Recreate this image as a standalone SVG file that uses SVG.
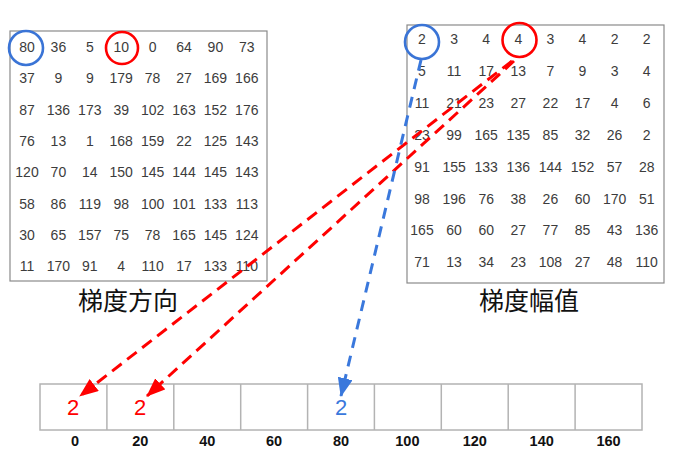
<svg xmlns="http://www.w3.org/2000/svg" width="678" height="454" viewBox="0 0 678 454">
<style>
.box{fill:#fff;stroke:#8a8a8a;stroke-width:1.2}
.num{font-family:"Liberation Sans",Arial,sans-serif;font-size:14px;fill:#3c3c3c;text-anchor:middle}
.lab{font-family:"Noto Sans CJK SC","Noto Sans",sans-serif;font-size:25px;fill:#111;text-anchor:middle}
.cell{fill:#fff;stroke:#b3b3b3;stroke-width:1.5}
.bin{font-family:"Liberation Sans",Arial,sans-serif;font-size:14.5px;font-weight:bold;fill:#111;text-anchor:middle}
.val{font-family:"Liberation Sans",Arial,sans-serif;font-size:22px;text-anchor:middle}
.cb{fill:none;stroke:#3a74d6;stroke-width:2.6}
.cr{fill:none;stroke:#f00;stroke-width:2.6}
.dr{fill:none;stroke:#f00;stroke-width:3;stroke-dasharray:12 7}
.db{fill:none;stroke:#3a78dc;stroke-width:3;stroke-dasharray:11 8}
</style>
<defs>
<marker id="ar" markerUnits="userSpaceOnUse" markerWidth="19" markerHeight="15" refX="18" refY="7.5" orient="auto"><path d="M0,0 L19,7.5 L0,15 z" fill="#f00"/></marker>
<marker id="ab" markerUnits="userSpaceOnUse" markerWidth="19" markerHeight="15" refX="18" refY="7.5" orient="auto"><path d="M0,0 L19,7.5 L0,15 z" fill="#3a78dc"/></marker>
</defs>
<g id="direction-grid">
<rect class="box" x="10" y="31" width="257" height="250"/>
<g class="num">
<text x="27" y="52">80</text><text x="58.4" y="52">36</text><text x="89.8" y="52">5</text><text x="121.2" y="52">10</text><text x="152.6" y="52">0</text><text x="184" y="52">64</text><text x="215.4" y="52">90</text><text x="246.8" y="52">73</text>
<text x="27" y="83.3">37</text><text x="58.4" y="83.3">9</text><text x="89.8" y="83.3">9</text><text x="121.2" y="83.3">179</text><text x="152.6" y="83.3">78</text><text x="184" y="83.3">27</text><text x="215.4" y="83.3">169</text><text x="246.8" y="83.3">166</text>
<text x="27" y="114.6">87</text><text x="58.4" y="114.6">136</text><text x="89.8" y="114.6">173</text><text x="121.2" y="114.6">39</text><text x="152.6" y="114.6">102</text><text x="184" y="114.6">163</text><text x="215.4" y="114.6">152</text><text x="246.8" y="114.6">176</text>
<text x="27" y="145.9">76</text><text x="58.4" y="145.9">13</text><text x="89.8" y="145.9">1</text><text x="121.2" y="145.9">168</text><text x="152.6" y="145.9">159</text><text x="184" y="145.9">22</text><text x="215.4" y="145.9">125</text><text x="246.8" y="145.9">143</text>
<text x="27" y="177.2">120</text><text x="58.4" y="177.2">70</text><text x="89.8" y="177.2">14</text><text x="121.2" y="177.2">150</text><text x="152.6" y="177.2">145</text><text x="184" y="177.2">144</text><text x="215.4" y="177.2">145</text><text x="246.8" y="177.2">143</text>
<text x="27" y="208.5">58</text><text x="58.4" y="208.5">86</text><text x="89.8" y="208.5">119</text><text x="121.2" y="208.5">98</text><text x="152.6" y="208.5">100</text><text x="184" y="208.5">101</text><text x="215.4" y="208.5">133</text><text x="246.8" y="208.5">113</text>
<text x="27" y="239.8">30</text><text x="58.4" y="239.8">65</text><text x="89.8" y="239.8">157</text><text x="121.2" y="239.8">75</text><text x="152.6" y="239.8">78</text><text x="184" y="239.8">165</text><text x="215.4" y="239.8">145</text><text x="246.8" y="239.8">124</text>
<text x="27" y="271.1">11</text><text x="58.4" y="271.1">170</text><text x="89.8" y="271.1">91</text><text x="121.2" y="271.1">4</text><text x="152.6" y="271.1">110</text><text x="184" y="271.1">17</text><text x="215.4" y="271.1">133</text><text x="246.8" y="271.1">110</text>
</g>
<circle class="cb" cx="26" cy="48" r="17"/>
<circle class="cr" cx="122" cy="48" r="16"/>
<text class="lab" x="128" y="310">梯度方向</text>
</g>
<g id="magnitude-grid">
<rect class="box" x="407" y="25" width="257" height="258"/>
<g class="num">
<text x="422" y="44">2</text><text x="454.1" y="44">3</text><text x="486.2" y="44">4</text><text x="518.3" y="44">4</text><text x="550.4" y="44">3</text><text x="582.5" y="44">4</text><text x="614.6" y="44">2</text><text x="646.7" y="44">2</text>
<text x="422" y="75.9">5</text><text x="454.1" y="75.9">11</text><text x="486.2" y="75.9">17</text><text x="518.3" y="75.9">13</text><text x="550.4" y="75.9">7</text><text x="582.5" y="75.9">9</text><text x="614.6" y="75.9">3</text><text x="646.7" y="75.9">4</text>
<text x="422" y="107.8">11</text><text x="454.1" y="107.8">21</text><text x="486.2" y="107.8">23</text><text x="518.3" y="107.8">27</text><text x="550.4" y="107.8">22</text><text x="582.5" y="107.8">17</text><text x="614.6" y="107.8">4</text><text x="646.7" y="107.8">6</text>
<text x="422" y="139.7">23</text><text x="454.1" y="139.7">99</text><text x="486.2" y="139.7">165</text><text x="518.3" y="139.7">135</text><text x="550.4" y="139.7">85</text><text x="582.5" y="139.7">32</text><text x="614.6" y="139.7">26</text><text x="646.7" y="139.7">2</text>
<text x="422" y="171.6">91</text><text x="454.1" y="171.6">155</text><text x="486.2" y="171.6">133</text><text x="518.3" y="171.6">136</text><text x="550.4" y="171.6">144</text><text x="582.5" y="171.6">152</text><text x="614.6" y="171.6">57</text><text x="646.7" y="171.6">28</text>
<text x="422" y="203.5">98</text><text x="454.1" y="203.5">196</text><text x="486.2" y="203.5">76</text><text x="518.3" y="203.5">38</text><text x="550.4" y="203.5">26</text><text x="582.5" y="203.5">60</text><text x="614.6" y="203.5">170</text><text x="646.7" y="203.5">51</text>
<text x="422" y="235.4">165</text><text x="454.1" y="235.4">60</text><text x="486.2" y="235.4">60</text><text x="518.3" y="235.4">27</text><text x="550.4" y="235.4">77</text><text x="582.5" y="235.4">85</text><text x="614.6" y="235.4">43</text><text x="646.7" y="235.4">136</text>
<text x="422" y="267.3">71</text><text x="454.1" y="267.3">13</text><text x="486.2" y="267.3">34</text><text x="518.3" y="267.3">23</text><text x="550.4" y="267.3">108</text><text x="582.5" y="267.3">27</text><text x="614.6" y="267.3">48</text><text x="646.7" y="267.3">110</text>
</g>
<circle class="cb" cx="422" cy="42" r="17"/>
<circle class="cr" cx="519.5" cy="40" r="17"/>
<text class="lab" x="529" y="310">梯度幅值</text>
</g>
<g id="histogram">
<rect class="cell" x="40" y="384" width="602" height="46"/>
<path class="cell" d="M106.9,384V430M173.8,384V430M240.7,384V430M307.6,384V430M374.4,384V430M441.3,384V430M508.2,384V430M575.1,384V430"/>
<g class="bin">
<text x="75" y="446">0</text><text x="140.3" y="446">20</text><text x="207.2" y="446">40</text><text x="274.1" y="446">60</text><text x="341" y="446">80</text><text x="407.4" y="446">100</text><text x="474.8" y="446">120</text><text x="541.7" y="446">140</text><text x="608.6" y="446">160</text>
</g>
<text class="val" x="73" y="415" fill="#f00">2</text>
<text class="val" x="140" y="415" fill="#f00">2</text>
<text class="val" x="341" y="415" fill="#3a78dc">2</text>
</g>
<g id="connectors">
<line class="dr" x1="512" y1="61" x2="80" y2="396" marker-end="url(#ar)"/>
<line class="dr" x1="514" y1="61" x2="147" y2="396" marker-end="url(#ar)"/>
<line class="db" x1="421" y1="60" x2="341" y2="396" marker-end="url(#ab)"/>
</g>
</svg>
